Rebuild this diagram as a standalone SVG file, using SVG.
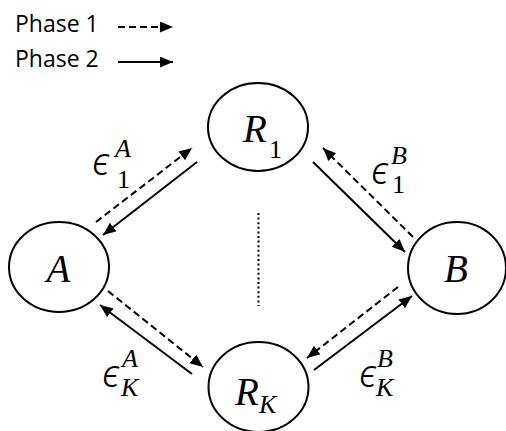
<svg xmlns="http://www.w3.org/2000/svg" width="506" height="431" viewBox="0 0 506 431">
<defs>
<marker id="ah" markerUnits="userSpaceOnUse" markerWidth="14" markerHeight="12" refX="13" refY="5.5" orient="auto">
<path d="M0,0 L13,5.5 L0,11 z" fill="#000"/>
</marker>
<style>
.node{fill:#fff;stroke:#000;stroke-width:2}
.s{stroke:#000;stroke-width:2;fill:none;marker-end:url(#ah)}
.d{stroke:#000;stroke-width:2;fill:none;stroke-dasharray:7 4;marker-end:url(#ah)}
.leg{font-family:"Open Sans","Liberation Sans",sans-serif;font-size:23px;fill:#000}
.m{font-family:"Liberation Serif","DejaVu Serif",serif;font-style:italic;fill:#000}
.big{font-size:39px}
.eps{font-family:"Noto Sans","DejaVu Sans",sans-serif;font-size:38px;font-weight:300}
.sm{font-size:26px}
.up{font-style:normal}
</style>
</defs>
<rect width="506" height="431" fill="#fff"/>
<g id="legend">
<text class="leg" x="15" y="32">Phase 1</text>
<text class="leg" x="15" y="67">Phase 2</text>
<line class="d" x1="118" y1="27" x2="173" y2="27"/>
<line class="s" x1="118" y1="62" x2="173" y2="62"/>
</g>
<g id="connectors">
<line class="d" x1="96" y1="222" x2="192" y2="148"/>
<line class="s" x1="197" y1="162" x2="103" y2="235"/>
<line class="s" x1="313" y1="162" x2="405" y2="252"/>
<line class="d" x1="413" y1="237" x2="323" y2="148"/>
<line class="d" x1="108" y1="291" x2="203" y2="367"/>
<line class="s" x1="192" y1="374" x2="100" y2="305"/>
<line class="d" x1="398" y1="287" x2="307" y2="358"/>
<line class="s" x1="314" y1="370" x2="412" y2="296"/>
<line x1="258.5" y1="213" x2="258.5" y2="306" stroke="#000" stroke-width="2" stroke-dasharray="2 2.6"/>
</g>
<g id="node-R1">
<ellipse class="node" cx="258" cy="127" rx="50" ry="44"/>
<text class="m big" x="243" y="142">R</text>
<text class="m sm up" x="269" y="158">1</text>
</g>
<g id="node-A">
<ellipse class="node" cx="59" cy="267" rx="50" ry="45"/>
<text class="m big" x="58.5" y="282" text-anchor="middle">A</text>
</g>
<g id="node-B">
<ellipse class="node" cx="457" cy="268" rx="49" ry="46"/>
<text class="m big" x="456" y="282" text-anchor="middle">B</text>
</g>
<g id="node-RK">
<ellipse class="node" cx="258.5" cy="387" rx="50" ry="45"/>
<text class="m big" x="235" y="405">R</text>
<text class="m sm" x="259" y="413">K</text>
</g>
<g id="labels">
<text class="m eps" x="92" y="175">ϵ</text>
<text class="m sm" x="115" y="157">A</text>
<text class="m sm up" x="117" y="188">1</text>
<text class="m eps" x="371" y="184">ϵ</text>
<text class="m sm" x="391" y="164">B</text>
<text class="m sm up" x="392" y="193">1</text>
<text class="m eps" x="102" y="387">ϵ</text>
<text class="m sm" x="122" y="367">A</text>
<text class="m sm" x="121" y="396">K</text>
<text class="m eps" x="359" y="387">ϵ</text>
<text class="m sm" x="377" y="367">B</text>
<text class="m sm" x="376" y="396">K</text>
</g>
</svg>
